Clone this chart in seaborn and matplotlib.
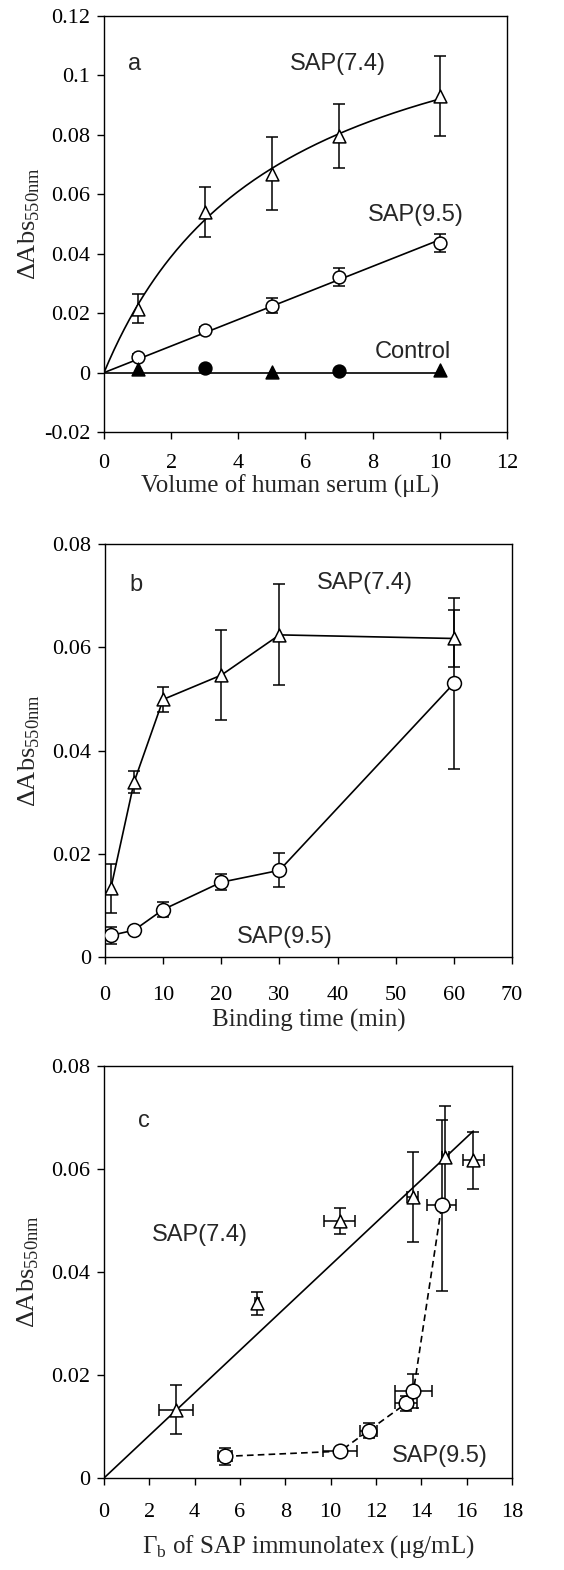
import numpy as np
import pandas as pd
import matplotlib
matplotlib.use("Agg")
import matplotlib.pyplot as plt
import seaborn as sns

# ---------------- data ----------------
# Panel a
vol = [1, 3, 5, 7, 10]
a_sap74 = [0.0215, 0.054, 0.067, 0.0795, 0.093]
a_sap74_err = [0.0048, 0.0083, 0.0124, 0.0108, 0.0135]
a_sap95 = [0.0054, 0.0144, 0.0225, 0.0322, 0.0436]
a_sap95_err = [0.001, 0.001, 0.0025, 0.0029, 0.003]
ctrl_tri_x = [1, 5, 10]
ctrl_tri_y = [0.0012, 0.0003, 0.0009]
ctrl_circ_x = [3, 7]
ctrl_circ_y = [0.0016, 0.0004]

# Panel b
btime = [1, 5, 10, 20, 30, 60]
b_sap74 = [0.0133, 0.0339, 0.0499, 0.0546, 0.0624, 0.0617]
b_sap74_err = [0.0048, 0.0022, 0.0025, 0.0087, 0.0098, 0.0055]
b_sap95 = [0.0042, 0.0052, 0.0092, 0.0145, 0.0168, 0.0530]
b_sap95_err = [0.0017, 0.0006, 0.0015, 0.0015, 0.0033, 0.0166]

# Panel c (Gamma_b of SAP immunolatex)
c_tri_x = [3.17, 6.74, 10.39, 13.62, 15.05, 16.29]
c_tri_xerr = [0.75, 0.1, 0.68, 0.25, 0.15, 0.47]
c_circ_x = [5.35, 10.42, 11.67, 13.33, 13.65, 14.9]
c_circ_xerr = [0.3, 0.75, 0.38, 0.5, 0.8, 0.65]

# ---------------- style ----------------
sns.set_style("ticks")
SERIF = ['Liberation Serif', 'DejaVu Serif']
plt.rcParams['font.family'] = SERIF
plt.rcParams['axes.unicode_minus'] = False
plt.rcParams['mathtext.fontset'] = 'custom'
plt.rcParams['mathtext.rm'] = 'Liberation Serif'
plt.rcParams['axes.linewidth'] = 1.0
plt.rcParams['axes.edgecolor'] = 'black'

TICK_FS = 16
LAB_FS = 18
ANN_FS = 17
ANN_FONT = ['Liberation Sans', 'DejaVu Sans']
MS = 85

fig = plt.figure(figsize=(5.64, 15.70), dpi=100)
ax_a = fig.add_axes([0.1844, 0.7248, 0.7145, 0.2650])
ax_b = fig.add_axes([0.1862, 0.3904, 0.7216, 0.2631])
ax_c = fig.add_axes([0.1844, 0.0586, 0.7234, 0.2624])

def gfmt(v, pos):
    s = f"{v:.2f}".rstrip('0').rstrip('.')
    if s in ("-0", ""):
        s = "0"
    return s

def style_axis(ax, xpad):
    for sp in ax.spines.values():
        sp.set_visible(True)
        sp.set_color('black')
        sp.set_linewidth(1.0)
    ax.tick_params(axis='both', direction='out', length=5, width=1.0,
                   labelsize=TICK_FS, colors='black', top=False, right=False)
    ax.tick_params(axis='x', pad=xpad)
    ax.tick_params(axis='y', pad=5)
    ax.yaxis.set_major_formatter(matplotlib.ticker.FuncFormatter(gfmt))
    ax.set_ylabel("ΔAbs$_{\\mathregular{550nm}}$", fontsize=19, labelpad=8)
    ax.grid(False)

def open_markers(ax, x, y, marker, s=MS, face='white'):
    sns.scatterplot(x=x, y=y, ax=ax, marker=marker, s=s, color=face,
                    edgecolor='black', linewidth=1.1, zorder=4, legend=False)

def errs(ax, x, y, yerr, xerr=None):
    ax.errorbar(x, y, yerr=yerr, xerr=xerr, fmt='none', ecolor='black',
                elinewidth=1.1, capsize=4.5, capthick=1.1, zorder=3)

# ---------------- panel a ----------------
xv = np.array(vol, float)
y74 = np.array(a_sap74)
# hyperbolic fit through origin y = A x / (B + x)
best = None
for B in np.linspace(0.5, 20, 2000):
    f = xv / (B + xv)
    A = np.sum(y74 * f) / np.sum(f * f)
    r = np.sum((y74 - A * f) ** 2)
    if best is None or r < best[0]:
        best = (r, A, B)
_, A, B = best
xs = np.linspace(0, 10, 200)
sns.lineplot(x=xs, y=A * xs / (B + xs), ax=ax_a, color='black', lw=1.2, zorder=2)
slope95 = np.sum(xv * np.array(a_sap95)) / np.sum(xv ** 2)
sns.lineplot(x=[0, 10], y=[0, slope95 * 10], ax=ax_a, color='black', lw=1.2, zorder=2)
# control baseline
ctrl_xmax = max(ctrl_tri_x + ctrl_circ_x)
sns.lineplot(x=[0, ctrl_xmax], y=[0, 0], ax=ax_a, color='black', lw=1.2, zorder=2)

errs(ax_a, vol, a_sap74, a_sap74_err)
errs(ax_a, vol, a_sap95, a_sap95_err)
open_markers(ax_a, vol, a_sap74, '^')
open_markers(ax_a, vol, a_sap95, 'o')
open_markers(ax_a, ctrl_tri_x, ctrl_tri_y, '^', face='black')
open_markers(ax_a, ctrl_circ_x, ctrl_circ_y, 'o', face='black')

ax_a.set_xlim(0, 12)
ax_a.set_ylim(-0.02, 0.12)
ax_a.set_xticks(np.arange(0, 13, 2))
ax_a.set_yticks(np.arange(-0.02, 0.121, 0.02))
style_axis(ax_a, 11)
ax_a.set_xlabel("Volume of human serum (μL)", fontsize=LAB_FS, labelpad=1)
ax_a.text(0.92, 0.104, "a", fontsize=ANN_FS, family=ANN_FONT, ha='center', va='center')
ax_a.text(6.95, 0.104, "SAP(7.4)", fontsize=ANN_FS, family=ANN_FONT, ha='center', va='center')
ax_a.text(9.3, 0.053, "SAP(9.5)", fontsize=ANN_FS, family=ANN_FONT, ha='center', va='center')
ax_a.text(9.2, 0.0068, "Control", fontsize=ANN_FS, family=ANN_FONT, ha='center', va='center')

# ---------------- panel b ----------------
dfb = pd.DataFrame({"t": btime, "s74": b_sap74, "s95": b_sap95})
sns.lineplot(data=dfb, x="t", y="s74", ax=ax_b, color='black', lw=1.2, zorder=2)
sns.lineplot(data=dfb, x="t", y="s95", ax=ax_b, color='black', lw=1.2, zorder=2)
errs(ax_b, btime, b_sap74, b_sap74_err)
errs(ax_b, btime, b_sap95, b_sap95_err)
open_markers(ax_b, btime, b_sap74, '^')
open_markers(ax_b, btime, b_sap95, 'o', s=100)
ax_b.set_xlim(0, 70)
ax_b.set_ylim(0, 0.08)
ax_b.set_xticks(np.arange(0, 71, 10))
ax_b.set_yticks(np.arange(0, 0.081, 0.02))
style_axis(ax_b, 16)
ax_b.set_xlabel("Binding time (min)", fontsize=LAB_FS, labelpad=3)
ax_b.text(5.4, 0.072, "b", fontsize=ANN_FS, family=ANN_FONT, ha='center', va='center')
ax_b.text(44.7, 0.0724, "SAP(7.4)", fontsize=ANN_FS, family=ANN_FONT, ha='center', va='center')
ax_b.text(30.9, 0.0038, "SAP(9.5)", fontsize=ANN_FS, family=ANN_FONT, ha='center', va='center')

# ---------------- panel c ----------------
tx = np.array(c_tri_x)
ty = np.array(b_sap74)
slope_c = np.sum(tx * ty) / np.sum(tx ** 2)
sns.lineplot(x=[0, tx.max()], y=[0, slope_c * tx.max()], ax=ax_c, color='black', lw=1.2, zorder=2)
dfc = pd.DataFrame({"x": c_circ_x, "y": b_sap95})
sns.lineplot(data=dfc, x="x", y="y", ax=ax_c, color='black', lw=1.2, zorder=2,
             linestyle=(0, (4, 2.5)))
errs(ax_c, c_tri_x, b_sap74, b_sap74_err, c_tri_xerr)
errs(ax_c, c_circ_x, b_sap95, b_sap95_err, c_circ_xerr)
open_markers(ax_c, c_tri_x, b_sap74, '^')
open_markers(ax_c, c_circ_x, b_sap95, 'o', s=110)
ax_c.set_xlim(0, 18)
ax_c.set_ylim(0, 0.08)
ax_c.set_xticks(np.arange(0, 19, 2))
ax_c.set_yticks(np.arange(0, 0.081, 0.02))
style_axis(ax_c, 13)
ax_c.set_xlabel("Γ$_{\\mathregular{b}}$ of SAP immunolatex (μg/mL)", fontsize=LAB_FS, labelpad=8)
ax_c.text(1.75, 0.0694, "c", fontsize=ANN_FS, family=ANN_FONT, ha='center', va='center')
ax_c.text(4.25, 0.0471, "SAP(7.4)", fontsize=ANN_FS, family=ANN_FONT, ha='center', va='center')
ax_c.text(14.8, 0.0043, "SAP(9.5)", fontsize=ANN_FS, family=ANN_FONT, ha='center', va='center')

for ax in (ax_a, ax_b, ax_c):
    ax.yaxis.set_label_coords(-0.155, 0.5)

fig.canvas.draw()
# panel a x label sits slightly left of centre in the reference
ax_a.xaxis.label.set_x(0.4615)

for ax in (ax_a, ax_b, ax_c):
    for tk in ax.xaxis.get_major_ticks() + ax.yaxis.get_major_ticks():
        tk.label1.set_family(SERIF)

fig.savefig("out.png", dpi=100)
